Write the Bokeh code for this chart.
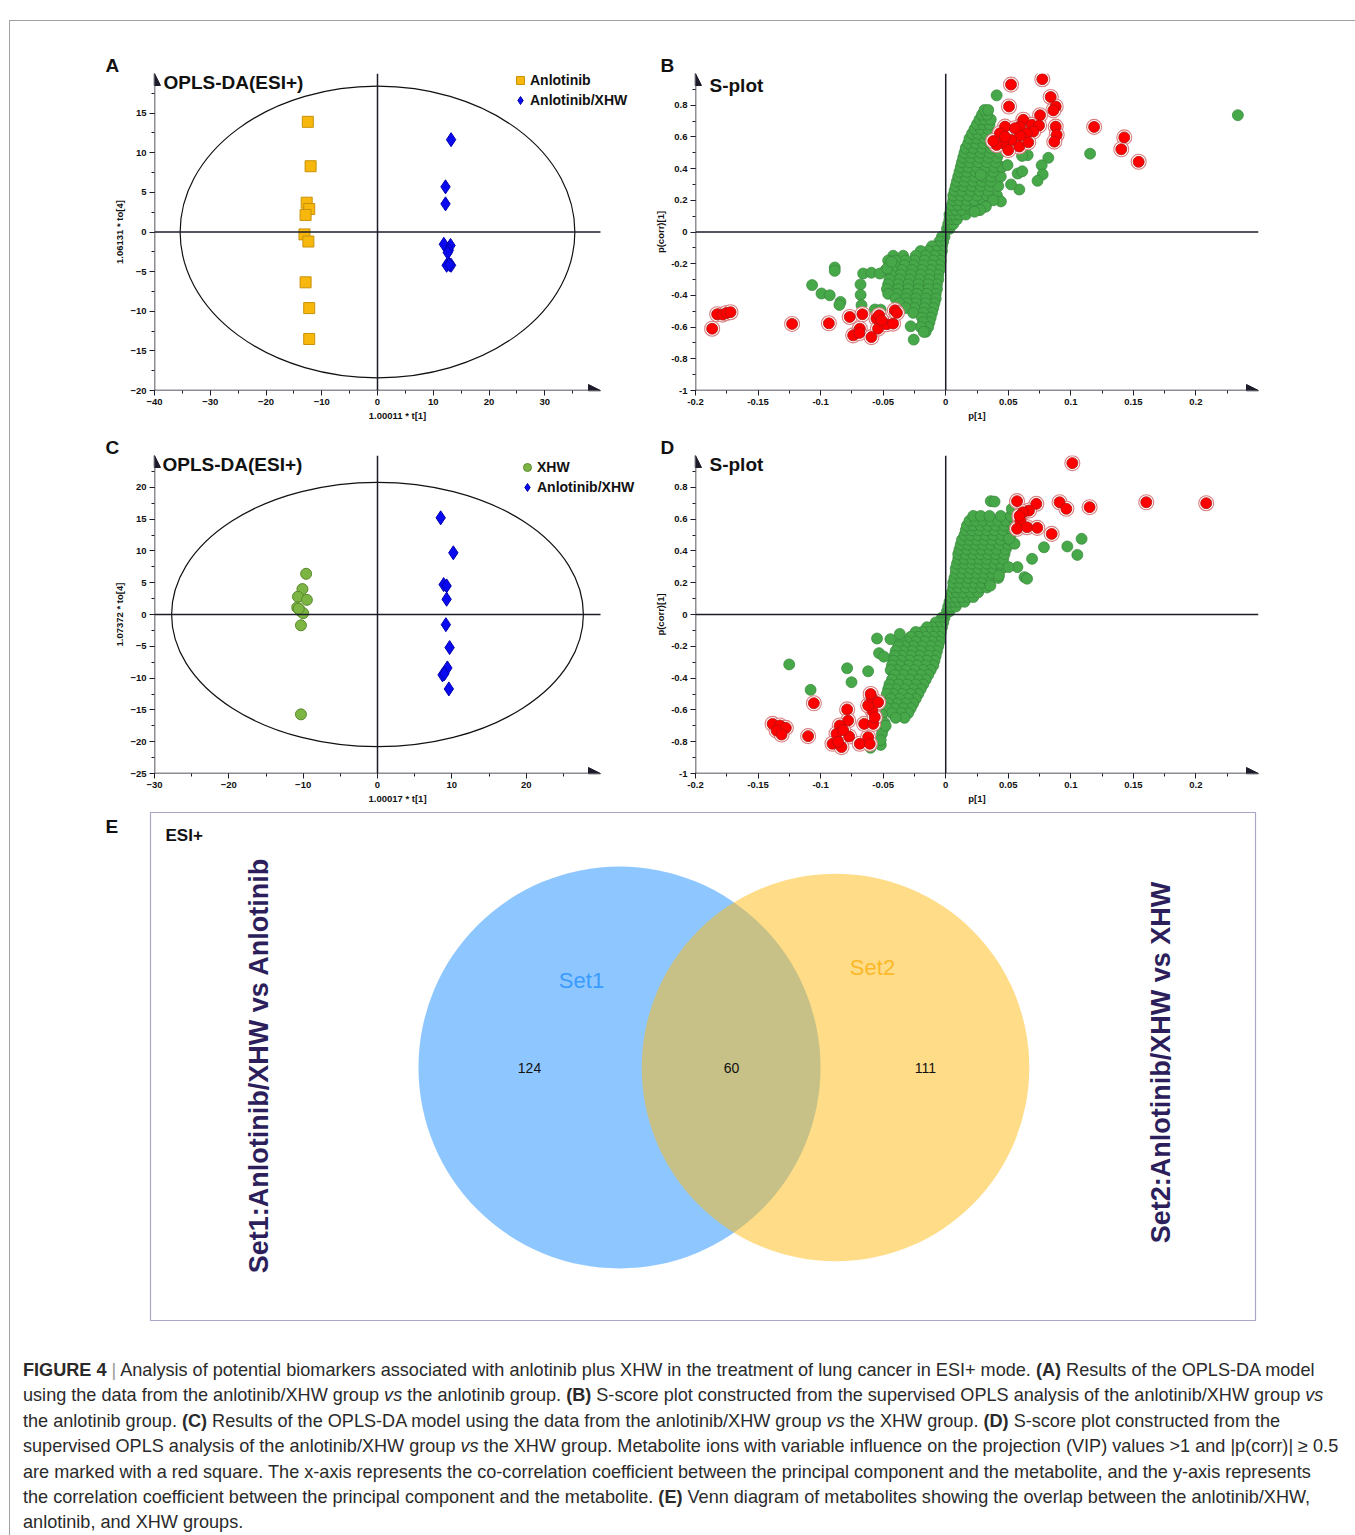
import math
from bokeh.plotting import figure
from bokeh.models import (Range1d, FixedTicker, Arrow, NormalHead, Label, Title,
                          Legend, LegendItem, Div)
from bokeh.layouts import row, column
from bokeh.embed import file_html
from bokeh.resources import INLINE
from bokeh.core.properties import value

# ------------------------------------------------------------------ data
# Panel A : OPLS-DA scores, Anlotinib vs Anlotinib/XHW
A_ANL_T1 = [-12.5, -12.0, -12.7, -12.25, -12.9, -13.1, -12.4, -12.9, -12.25, -12.25]
A_ANL_TO = [13.9, 8.3, 3.7, 2.9, 2.15, -0.3, -1.2, -6.35, -9.6, -13.5]
A_CMB_T1 = [13.2, 12.2, 12.2, 11.9, 13.1, 12.8, 12.6, 12.4, 13.2, 12.9]
A_CMB_TO = [11.65, 5.7, 3.55, -1.55, -1.7, -2.3, -2.6, -4.2, -4.2, -4.1]
A_ELLIPSE = [35.4, 18.4]
A_XTICKS = [-40, -30, -20, -10, 0, 10, 20, 30]
A_YTICKS = [-20, -15, -10, -5, 0, 5, 10, 15]

# Panel C : OPLS-DA scores, XHW vs Anlotinib/XHW
C_XHW_T1 = [-9.6, -10.1, -10.7, -9.5, -10.8, -10.4, -10.0, -10.3, -10.3, -10.6]
C_XHW_TO = [6.4, 4.0, 2.8, 2.3, 1.1, 0.6, 0.2, -1.7, -15.7, 0.9]
C_CMB_T1 = [8.5, 10.2, 8.9, 9.3, 9.3, 9.2, 9.7, 9.4, 8.75, 9.0, 9.6]
C_CMB_TO = [15.2, 9.7, 4.7, 4.5, 2.4, -1.6, -5.2, -8.4, -9.5, -9.3, -11.7]
C_ELLIPSE = [27.7, 20.8]
C_XTICKS = [-30, -20, -10, 0, 10, 20]
C_YTICKS = [-25, -20, -15, -10, -5, 0, 5, 10, 15, 20]

# S-plot ticks
S_XTICKS = [-0.2, -0.15, -0.1, -0.05, 0, 0.05, 0.1, 0.15, 0.2]
S_XLABELS = ["-0.2", "-0.15", "-0.1", "-0.05", "0", "0.05", "0.1", "0.15", "0.2"]
S_YTICKS = [-1, -0.8, -0.6, -0.4, -0.2, 0, 0.2, 0.4, 0.6, 0.8]
S_YLABELS = ["-1", "-0.8", "-0.6", "-0.4", "-0.2", "0", "0.2", "0.4", "0.6", "0.8"]

# Panel B : S-plot, green = all ions, rows of (p(corr), [p values])
B_GREEN_ROWS = [
    (0.02, [0.001, 0.003]), (0.05, [0.002, 0.004, 0.006]),
    (0.08, [0.003, 0.006, 0.009]), (0.11, [0.003, 0.007, 0.011, 0.016]),
    (0.14, [0.004, 0.008, 0.013, 0.020, 0.027]),
    (0.17, [0.005, 0.010, 0.016, 0.024, 0.032]),
    (0.20, [0.006, 0.011, 0.017, 0.023, 0.030]),
    (0.23, [0.006, 0.012, 0.018, 0.025, 0.033, 0.041]),
    (0.26, [0.007, 0.013, 0.020, 0.027, 0.034]),
    (0.29, [0.008, 0.014, 0.021, 0.028, 0.035, 0.042]),
    (0.32, [0.009, 0.015, 0.022, 0.029, 0.036]),
    (0.35, [0.010, 0.016, 0.023, 0.030, 0.036, 0.044]),
    (0.38, [0.011, 0.017, 0.024, 0.031, 0.038]),
    (0.41, [0.012, 0.018, 0.025, 0.032, 0.039, 0.045]),
    (0.44, [0.013, 0.019, 0.026, 0.033, 0.040]),
    (0.47, [0.014, 0.020, 0.027, 0.034, 0.041]),
    (0.50, [0.015, 0.021, 0.028, 0.035, 0.043]),
    (0.53, [0.016, 0.022, 0.029, 0.036]),
    (0.56, [0.018, 0.024, 0.030, 0.036]),
    (0.59, [0.019, 0.025, 0.031]), (0.62, [0.021, 0.026, 0.032]),
    (0.65, [0.023, 0.028, 0.034]), (0.68, [0.025, 0.030, 0.035]),
    (0.71, [0.027, 0.031, 0.036]), (0.74, [0.029, 0.033]), (0.77, [0.031, 0.034]),
    (-0.03, [-0.001, -0.003]), (-0.06, [-0.002, -0.005]),
    (-0.09, [-0.003, -0.007, -0.011]), (-0.12, [-0.003, -0.008, -0.014, -0.020]),
    (-0.15, [-0.004, -0.009, -0.016, -0.024, -0.034, -0.042]),
    (-0.18, [-0.004, -0.010, -0.017, -0.025, -0.032, -0.040, -0.046]),
    (-0.21, [-0.005, -0.011, -0.018, -0.026, -0.033, -0.041]),
    (-0.24, [-0.005, -0.012, -0.019, -0.027, -0.035, -0.043, -0.048]),
    (-0.27, [-0.006, -0.013, -0.020, -0.028, -0.036, -0.044]),
    (-0.30, [-0.006, -0.013, -0.021, -0.029, -0.037, -0.045]),
    (-0.33, [-0.007, -0.014, -0.022, -0.030, -0.038, -0.046]),
    (-0.36, [-0.007, -0.014, -0.022, -0.030, -0.038, -0.047]),
    (-0.39, [-0.008, -0.015, -0.023, -0.031, -0.039, -0.046]),
    (-0.42, [-0.008, -0.016, -0.024, -0.032, -0.040]),
    (-0.45, [-0.009, -0.016, -0.024, -0.031, -0.037]),
    (-0.48, [-0.010, -0.017, -0.025, -0.032]),
    (-0.51, [-0.011, -0.018, -0.026]), (-0.54, [-0.012, -0.019]),
    (-0.57, [-0.013, -0.018]), (-0.60, [-0.014, -0.020]), (-0.63, [-0.016]),
]
B_GREEN_P = [0.0407, 0.1154, 0.2335, 0.082, 0.0767, 0.0775, 0.0734, 0.0588, 0.0522, 0.0441,
             0.038, 0.0655, 0.061, 0.0494, 0.0575, 0.0612, 0.032, 0.0275, 0.023, 0.028,
             -0.1068, -0.0993, -0.0927, -0.0887, -0.0887, -0.0841, -0.085, -0.066, -0.0594,
             -0.0527, -0.0681, -0.068, -0.0673, -0.0567, -0.052, -0.0469, -0.0434, -0.028,
             -0.0256, -0.0176]
B_GREEN_C = [0.862, 0.494, 0.737, 0.468, 0.421, 0.363, 0.323, 0.268, 0.30, 0.193,
             0.20, 0.485, 0.48, 0.422, 0.369, 0.383, 0.16, 0.139, 0.128, 0.36,
             -0.335, -0.388, -0.399, -0.224, -0.245, -0.441, -0.46, -0.262, -0.257,
             -0.262, -0.331, -0.397, -0.462, -0.489, -0.49, -0.230, -0.188, -0.595,
             -0.679, -0.63]
B_RED_P = [0.0522, 0.0772, 0.0506, 0.0839, 0.0879, 0.086, 0.0754, 0.0879, 0.0887, 0.0868,
           0.1186, 0.1427, 0.1403, 0.1542, 0.0474, 0.0433, 0.062, 0.0593, 0.0687, 0.0746,
           0.070, 0.0647, 0.0593, 0.0526, 0.0588, 0.066, 0.046, 0.050, 0.0407, 0.038,
           0.0553, 0.0474,
           -0.1867, -0.1827, -0.1784, -0.1752, -0.172, -0.1228, -0.0934, -0.0767, -0.0666,
           -0.074, -0.0687, -0.069, -0.0594, -0.0554, -0.0533, -0.0541, -0.0474, -0.0421,
           -0.0407, -0.039, -0.0514]
B_RED_C = [0.93, 0.964, 0.792, 0.852, 0.792, 0.767, 0.737, 0.665, 0.613, 0.570,
           0.663, 0.597, 0.522, 0.443, 0.665, 0.623, 0.708, 0.665, 0.676, 0.672,
           0.634, 0.623, 0.608, 0.580, 0.539, 0.566, 0.560, 0.517, 0.549, 0.574,
           0.655, 0.602,
           -0.610, -0.519, -0.521, -0.511, -0.506, -0.580, -0.576, -0.536, -0.519,
           -0.652, -0.610, -0.637, -0.663, -0.546, -0.525, -0.610, -0.582, -0.578,
           -0.494, -0.51, -0.557]

# Panel D : S-plot
D_GREEN_ROWS = [
    (0.02, [0.001, 0.003]), (0.05, [0.002, 0.005, 0.008]),
    (0.08, [0.003, 0.007, 0.011, 0.015]), (0.11, [0.004, 0.008, 0.013, 0.018, 0.022]),
    (0.14, [0.005, 0.009, 0.014, 0.020, 0.026]),
    (0.17, [0.006, 0.010, 0.016, 0.022, 0.028, 0.033]),
    (0.20, [0.006, 0.011, 0.017, 0.023, 0.029, 0.035]),
    (0.23, [0.007, 0.012, 0.018, 0.024, 0.030, 0.036, 0.042]),
    (0.26, [0.008, 0.013, 0.019, 0.025, 0.031, 0.037]),
    (0.29, [0.008, 0.014, 0.020, 0.026, 0.032, 0.038, 0.045]),
    (0.32, [0.009, 0.015, 0.021, 0.027, 0.033, 0.039, 0.044]),
    (0.35, [0.010, 0.015, 0.021, 0.027, 0.033, 0.040, 0.046]),
    (0.38, [0.010, 0.016, 0.022, 0.028, 0.034, 0.040, 0.047]),
    (0.41, [0.011, 0.017, 0.023, 0.029, 0.035, 0.041, 0.048]),
    (0.44, [0.012, 0.018, 0.024, 0.030, 0.036, 0.043, 0.050]),
    (0.47, [0.013, 0.019, 0.025, 0.031, 0.037, 0.044, 0.051]),
    (0.50, [0.015, 0.020, 0.026, 0.032, 0.038, 0.045, 0.052]),
    (0.53, [0.016, 0.021, 0.027, 0.033, 0.039, 0.046, 0.053]),
    (0.56, [0.017, 0.022, 0.028, 0.034, 0.040, 0.047, 0.054]),
    (0.59, [0.019, 0.024, 0.030, 0.036, 0.042, 0.048, 0.055]),
    (0.62, [0.022, 0.028, 0.035, 0.044, 0.052]),
    (-0.02, [-0.001, -0.003]), (-0.05, [-0.002, -0.005, -0.008]),
    (-0.08, [-0.003, -0.007, -0.011, -0.015]),
    (-0.11, [-0.004, -0.009, -0.014, -0.019, -0.024]),
    (-0.14, [-0.005, -0.010, -0.016, -0.022, -0.028]),
    (-0.17, [-0.005, -0.011, -0.017, -0.024, -0.031, -0.036]),
    (-0.20, [-0.006, -0.012, -0.019, -0.026, -0.033, -0.038]),
    (-0.23, [-0.007, -0.013, -0.020, -0.027, -0.034, -0.040]),
    (-0.26, [-0.008, -0.014, -0.021, -0.028, -0.035, -0.041]),
    (-0.29, [-0.009, -0.015, -0.022, -0.029, -0.036, -0.042]),
    (-0.32, [-0.010, -0.016, -0.023, -0.030, -0.037, -0.043]),
    (-0.35, [-0.012, -0.018, -0.025, -0.032, -0.039, -0.044]),
    (-0.38, [-0.014, -0.020, -0.027, -0.034, -0.041]),
    (-0.41, [-0.016, -0.022, -0.029, -0.036, -0.043]),
    (-0.44, [-0.018, -0.024, -0.031, -0.038, -0.045]),
    (-0.47, [-0.020, -0.026, -0.033, -0.040, -0.046]),
    (-0.50, [-0.022, -0.028, -0.035, -0.042, -0.047]),
    (-0.53, [-0.024, -0.030, -0.037, -0.044]),
    (-0.56, [-0.026, -0.032, -0.039, -0.046]),
    (-0.59, [-0.028, -0.034, -0.041, -0.047]),
    (-0.62, [-0.030, -0.036, -0.043]), (-0.65, [-0.033, -0.040]),
]
D_GREEN_P = [0.036, 0.039, 0.1086, 0.0972, 0.1052, 0.0785, 0.069, 0.063, 0.065, 0.0573,
             0.0503, 0.0426, 0.0357, 0.0528, 0.055, 0.0506,
             -0.1251, -0.108, -0.0788, -0.0753, -0.062, -0.0549, -0.0442, -0.0367, -0.0533,
             -0.0601, -0.0519, -0.051, -0.0495, -0.049, -0.050, -0.051, -0.052, -0.048]
D_GREEN_C = [0.713, 0.71, 0.476, 0.428, 0.375, 0.423, 0.35, 0.235, 0.225, 0.298,
             0.298, 0.245, 0.182, 0.664, 0.445, 0.476,
             -0.314, -0.474, -0.338, -0.426, -0.357, -0.151, -0.155, -0.122, -0.243,
             -0.838, -0.82, -0.63, -0.265, -0.68, -0.72, -0.75, -0.79, -0.70]
D_RED_P = [0.1012, 0.057, 0.0724, 0.091, 0.0964, 0.115, 0.1603, 0.2082, 0.0666, 0.0617,
           0.0597, 0.057, 0.065, 0.0732, 0.0847, 0.059,
           -0.1384, -0.1326, -0.1278, -0.1352, -0.1312, -0.1054, -0.11, -0.0788, -0.078,
           -0.0847, -0.0873, -0.0772, -0.0905, -0.0833, -0.086, -0.082, -0.0687, -0.062,
           -0.0607, -0.0652, -0.058, -0.0586, -0.062, -0.0594, -0.054, -0.0567, -0.060]
D_RED_C = [0.952, 0.713, 0.696, 0.706, 0.665, 0.675, 0.706, 0.70, 0.654, 0.643,
           0.591, 0.539, 0.549, 0.545, 0.507, 0.62,
           -0.688, -0.698, -0.713, -0.730, -0.755, -0.558, -0.765, -0.597, -0.667,
           -0.698, -0.75, -0.767, -0.813, -0.834, -0.80, -0.727, -0.813, -0.772,
           -0.813, -0.688, -0.688, -0.604, -0.572, -0.52, -0.552, -0.646, -0.50]

# Panel E : Venn
SET1_ONLY, BOTH, SET2_ONLY = 124, 60, 111
VENN_LABELS = ["Set1", "Set2"]
VENN_SET_NAMES = ["Set1:Anlotinib/XHW vs Anlotinib", "Set2:Anlotinib/XHW vs XHW"]

CAPTION_LINES = [
    "<b>FIGURE 4</b> <span style='color:#9a9a9a'>|</span> Analysis of potential biomarkers associated with anlotinib plus XHW in the treatment of lung cancer in ESI+ mode. <b>(A)</b> Results of the OPLS-DA model",
    "using the data from the anlotinib/XHW group <i>vs</i> the anlotinib group. <b>(B)</b> S-score plot constructed from the supervised OPLS analysis of the anlotinib/XHW group <i>vs</i>",
    "the anlotinib group. <b>(C)</b> Results of the OPLS-DA model using the data from the anlotinib/XHW group <i>vs</i> the XHW group. <b>(D)</b> S-score plot constructed from the",
    "supervised OPLS analysis of the anlotinib/XHW group <i>vs</i> the XHW group. Metabolite ions with variable influence on the projection (VIP) values &gt;1 and |p(corr)| &ge; 0.5",
    "are marked with a red square. The x-axis represents the co-correlation coefficient between the principal component and the metabolite, and the y-axis represents",
    "the correlation coefficient between the principal component and the metabolite. <b>(E)</b> Venn diagram of metabolites showing the overlap between the anlotinib/XHW,",
    "anlotinib, and XHW groups.",
]

# ------------------------------------------------------------------ helpers
AX = "#1c1c2a"
FONT = "Liberation Sans"


def flatten(rows, extra_p, extra_c):
    px, py = [], []
    for c, ps in rows:
        for p in ps:
            px.append(p)
            py.append(c)
    return px + list(extra_p), py + list(extra_c)


def make_fig(w, h, bl, br, bt, bb, xr, yr, frame_w, extra_right):
    # the frame is extended to the right by extra_right px so that legends fit;
    # the drawn axis stops at xr[1]
    x_end = xr[1] + extra_right * (xr[1] - xr[0]) / frame_w
    p = figure(width=w, height=h, min_border_left=bl, min_border_right=br,
               min_border_top=bt, min_border_bottom=bb, x_range=Range1d(xr[0], x_end),
               y_range=Range1d(*yr), output_backend="svg", toolbar_location=None,
               title=None)
    p.grid.visible = False
    p.outline_line_color = None
    p.background_fill_color = "white"
    p.border_fill_color = "white"
    return p


def style_axes(p, xr, yr, xt, yt, xminor, yminor, xlabels=None, ylabels=None,
               xlab="", ylab=""):
    p.xaxis.ticker = FixedTicker(ticks=xt, minor_ticks=xminor)
    p.yaxis.ticker = FixedTicker(ticks=yt, minor_ticks=yminor)
    if xlabels:
        p.xaxis.major_label_overrides = {t: l for t, l in zip(xt, xlabels)}
    if ylabels:
        p.yaxis.major_label_overrides = {t: l for t, l in zip(yt, ylabels)}
    for ax in (p.xaxis[0], p.yaxis[0]):
        ax.axis_line_color = None
        ax.major_tick_line_color = AX
        ax.minor_tick_line_color = AX
        ax.major_tick_line_width = 1
        ax.major_tick_out = 5
        ax.major_tick_in = 0
        ax.minor_tick_out = 3
        ax.minor_tick_in = 0
        ax.major_label_text_font = FONT
        ax.major_label_text_font_style = "bold"
        ax.major_label_text_font_size = "9.5px"
        ax.major_label_text_color = "#111"
        ax.major_label_standoff = 3
        ax.axis_label_text_font = FONT
        ax.axis_label_text_font_style = "bold"
        ax.axis_label_text_font_size = "9.5px"
        ax.axis_label_text_color = "#111"
        ax.axis_label_standoff = 2
    p.xaxis.axis_label = xlab
    p.yaxis.axis_label = ylab
    x0, x1 = xr
    y0, y1 = yr
    # zero lines
    p.add_layout(Arrow(end=None, line_color=AX, line_width=1.5,
                       x_start=x0, y_start=0, x_end=x1, y_end=0))
    p.add_layout(Arrow(end=None, line_color=AX, line_width=1.5,
                       x_start=0, y_start=y0, x_end=0, y_end=y1))
    # axis lines with arrow heads
    p.add_layout(Arrow(end=NormalHead(size=12, fill_color=AX, line_color=AX, line_width=1),
                       line_color=AX, line_width=1.5, x_start=x0, y_start=y0, x_end=x1, y_end=y0))
    p.add_layout(Arrow(end=NormalHead(size=12, fill_color=AX, line_color=AX, line_width=1),
                       line_color=AX, line_width=1.5, x_start=x0, y_start=y0, x_end=x0, y_end=y1))


def add_text(p, fl, fb, px, py, text, size, bold=True, color="#111", align="left"):
    p.add_layout(Label(x=px - fl, y=fb - py, x_units="screen", y_units="screen", text=text,
                       text_font=FONT, text_font_size=size,
                       text_font_style="bold" if bold else "normal", text_color=color,
                       text_align=align, text_baseline="middle"))


def panel_letter(p, text, offset):
    p.add_layout(Title(text=text, align="left", offset=offset, text_font=FONT,
                       text_font_size="19px", text_font_style="bold", text_color="#111",
                       standoff=-5, vertical_align="bottom"), "above")


def minor(ticks, step):
    out = []
    for t in ticks:
        out.append(t)
        out.append(t + step / 2)
    return out


def splot(p, rows, gp, gc, rp, rc):
    xs, ys = flatten(rows, gp, gc)
    p.scatter(xs, ys, size=11, fill_color="#47a84a", line_color="#35873a", line_width=0.7)
    p.scatter(rp, rc, size=15, fill_color="white", line_color="#d98080", line_width=1.1)
    p.scatter(rp, rc, size=11, fill_color="#ff0000", line_color="#b01010", line_width=0.8)


def legend(p, items, loc):
    lg = Legend(items=items, location=loc, orientation="vertical", glyph_width=20,
                glyph_height=20, label_height=19, spacing=0, padding=0, margin=0,
                label_standoff=0, border_line_color=None, background_fill_alpha=0,
                label_text_font=FONT, label_text_font_size="14px",
                label_text_font_style="bold", label_text_color="#111")
    p.add_layout(lg)


# ------------------------------------------------------------------ panel A
A_XR, A_YR = (-40, 40), (-20, 20)
pA = make_fig(630, 407, 144, 0, 52, 38, A_XR, A_YR, 446, 40)
style_axes(pA, A_XR, A_YR, A_XTICKS, A_YTICKS, minor(A_XTICKS, 10), minor(A_YTICKS, 5),
           xlab="1.00011 * t[1]", ylab="1.06131 * to[4]")
pA.ellipse(x=[0], y=[0], width=[2 * A_ELLIPSE[0]], height=[2 * A_ELLIPSE[1]],
           fill_color=None, line_color="#111", line_width=1.2)
rA1 = pA.scatter(A_ANL_T1, A_ANL_TO, marker="square", size=11, fill_color="#f7b70c",
                 line_color="#c8920a", line_width=1)
rA2 = pA.scatter(A_CMB_T1, A_CMB_TO, marker="diamond", size=14, fill_color="#0a0af0",
                 line_color="#0000b0", line_width=1)
legend(pA, [LegendItem(label="Anlotinib", renderers=[rA1]),
            LegendItem(label="Anlotinib/XHW", renderers=[rA2])], (356, 280))
panel_letter(pA, "A", -49)
add_text(pA, 154, 390, 163, 82, "OPLS-DA(ESI+)", "19px")

# ------------------------------------------------------------------ panel B
S_XR, S_YR = (-0.2, 0.25), (-1, 1)
pB = make_fig(713, 407, 55, 95, 52, 38, S_XR, S_YR, 563, 0)
style_axes(pB, S_XR, S_YR, S_XTICKS, S_YTICKS, minor(S_XTICKS, 0.05), minor(S_YTICKS, 0.2),
           S_XLABELS, S_YLABELS, xlab="p[1]", ylab="p(corr)[1]")
splot(pB, B_GREEN_ROWS, B_GREEN_P, B_GREEN_C, B_RED_P, B_RED_C)
panel_letter(pB, "B", -35)
add_text(pB, 695, 390, 709, 85, "S-plot", "19px")

# ------------------------------------------------------------------ panel C
C_XR, C_YR = (-30, 30), (-25, 25)
pC = make_fig(630, 378, 144, 0, 27, 33, C_XR, C_YR, 446, 40)
style_axes(pC, C_XR, C_YR, C_XTICKS, C_YTICKS, minor(C_XTICKS, 10), minor(C_YTICKS, 5),
           xlab="1.00017 * t[1]", ylab="1.07372 * to[4]")
pC.ellipse(x=[0], y=[0], width=[2 * C_ELLIPSE[0]], height=[2 * C_ELLIPSE[1]],
           fill_color=None, line_color="#111", line_width=1.2)
rC1 = pC.scatter(C_XHW_T1, C_XHW_TO, marker="circle", size=11, fill_color="#7db544",
                 line_color="#5a8a2c", line_width=1)
rC2 = pC.scatter(C_CMB_T1, C_CMB_TO, marker="diamond", size=14, fill_color="#0a0af0",
                 line_color="#0000b0", line_width=1)
legend(pC, [LegendItem(label="XHW", renderers=[rC1]),
            LegendItem(label="Anlotinib/XHW", renderers=[rC2])], (363, 276))
panel_letter(pC, "C", -49)
add_text(pC, 154, 773, 162, 464, "OPLS-DA(ESI+)", "19px")

# ------------------------------------------------------------------ panel D
pD = make_fig(713, 378, 55, 95, 27, 33, S_XR, S_YR, 563, 0)
style_axes(pD, S_XR, S_YR, S_XTICKS, S_YTICKS, minor(S_XTICKS, 0.05), minor(S_YTICKS, 0.2),
           S_XLABELS, S_YLABELS, xlab="p[1]", ylab="p(corr)[1]")
splot(pD, D_GREEN_ROWS, D_GREEN_P, D_GREEN_C, D_RED_P, D_RED_C)
panel_letter(pD, "D", -35)
add_text(pD, 695, 773, 709, 464, "S-plot", "19px")

# ------------------------------------------------------------------ panel E (Venn)
# the frame covers the whole figure; coordinates are page pixels (y downwards)
pV = figure(width=1343, height=528, min_border_left=0, min_border_right=0,
            min_border_top=0, min_border_bottom=0, x_range=Range1d(10, 1353),
            y_range=Range1d(1334, 806), x_axis_type=None, y_axis_type=None,
            output_backend="svg", toolbar_location=None, title=None)
pV.grid.visible = False
pV.outline_line_color = None
pV.quad(left=[150], right=[1255], top=[812], bottom=[1320], fill_color=None,
        line_color="#aaa6c6", line_width=1.2)
n1 = SET1_ONLY + BOTH
n2 = SET2_ONLY + BOTH
k = 14.82
r1, r2 = k * math.sqrt(n1), k * math.sqrt(n2)
cx1, cx2, cy = 619, 835, 1067
pV.circle(x=[cx1], y=[cy], radius=r1, fill_color="#1e90ff", fill_alpha=0.5, line_color=None)
pV.circle(x=[cx2], y=[cy], radius=r2, fill_color="#ffb90f", fill_alpha=0.5, line_color=None)
pV.text(x=[581, 872], y=[980, 967], text=VENN_LABELS, text_color=["#3a9bff", "#fbb92a"],
        text_font=value(FONT), text_font_size="22px", text_align="center",
        text_baseline="middle")
pV.text(x=[529, 731, 925], y=[cy, cy, cy],
        text=[str(SET1_ONLY), str(BOTH), str(SET2_ONLY)],
        text_color="#111", text_font=value(FONT), text_font_size="14px",
        text_align="center", text_baseline="middle")
pV.text(x=[258, 1160], y=[1065, 1062], text=VENN_SET_NAMES,
        angle=math.pi / 2, text_color="#2c1f5c", text_font=value(FONT),
        text_font_size="27px", text_font_style="bold", text_align="center",
        text_baseline="middle")
pV.text(x=[105, 165], y=[826, 835], text=["E", "ESI+"], text_color="#111",
        text_font=value(FONT), text_font_size=["19px", "17px"], text_font_style="bold",
        text_align="left", text_baseline="middle")

# ------------------------------------------------------------------ caption
cap_html = ("<div style=\"font-family:'Liberation Sans', Arial, sans-serif; font-size:18.1px; "
            "line-height:25.4px; color:#2a2a2a; padding:19px 0 0 8px; white-space:nowrap;\">"
            + "<br>".join(CAPTION_LINES) + "</div>")
cap = Div(text=cap_html, width=1343, height=200, styles={"overflow": "hidden"})

layout = column(row(pA, pB), row(pC, pD), pV, cap,
                styles={"margin-left": "9px", "margin-top": "20px",
                        "border-left": "1px solid #a0a0a0", "border-top": "1px solid #a0a0a0",
                        "border-right": "1px solid #a0a0a0"})

open("out.html", "w").write(file_html(layout, INLINE))
